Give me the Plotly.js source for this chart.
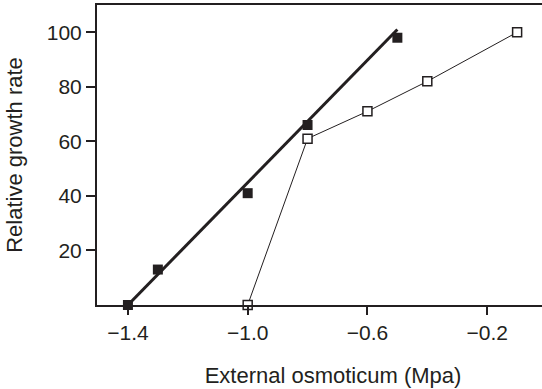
<!DOCTYPE html>
<html>
<head>
<meta charset="utf-8">
<script src="https://cdn.plot.ly/plotly-3.0.1.min.js"></script>
<style>
html,body{margin:0;padding:0;background:#fff;overflow:hidden;width:542px;height:389px;}
#chart{width:569px;height:389px;}
</style>
</head>
<body>
<div id="chart"></div>
<script>
// Filled squares (with fitted straight line)
var filledX = [-1.4, -1.3, -1.0, -0.8, -0.5];
var filledY = [0, 13, 41, 66, 98];
// Fitted line end points
var fitX = [-1.4, -0.5];
var fitY = [0, 101];
// Open squares (joined by thin line)
var openX = [-1.0, -0.8, -0.6, -0.4, -0.1];
var openY = [0, 61, 71, 82, 100];
// Ticks
var xTickVals = [-1.4, -1.0, -0.6, -0.2];
var xTickText = ['\u22121.4', '\u22121.0', '\u22120.6', '\u22120.2'];
var yTickVals = [20, 40, 60, 80, 100];
var yTickText = ['20', '40', '60', '80', '100'];

var ink = '#231f20';
var font = 'Liberation Sans, Arial, sans-serif';

var traces = [
  {x: fitX, y: fitY, mode: 'lines', line: {color: ink, width: 3}, hoverinfo: 'skip', cliponaxis: false},
  {x: openX, y: openY, mode: 'lines+markers', line: {color: ink, width: 1},
   marker: {symbol: 'square', size: 9, color: '#ffffff', line: {color: ink, width: 1.5}}, cliponaxis: false},
  {x: filledX, y: filledY, mode: 'markers',
   marker: {symbol: 'square', size: 10, color: ink, line: {width: 0}}, cliponaxis: false}
];

// The plot frame of the original runs past the right edge of the picture
var layout = {
  width: 569, height: 389,
  margin: {l: 97, r: 0, t: 5, b: 84},
  paper_bgcolor: '#fff', plot_bgcolor: '#fff',
  showlegend: false,
  font: {family: font, color: ink, size: 21},
  xaxis: {
    range: [-1.5033, 0.0733],
    tickvals: xTickVals, ticktext: xTickText,
    ticks: 'outside', ticklen: 8, tickwidth: 2, tickcolor: ink,
    showline: true, linewidth: 2, linecolor: ink, mirror: true,
    showgrid: false, zeroline: false,
    tickfont: {family: font, size: 21, color: ink},
    title: {text: 'External osmoticum (Mpa)', font: {family: font, size: 22, color: ink}, standoff: 24}
  },
  yaxis: {
    range: [0, 110],
    tickvals: yTickVals, ticktext: yTickText,
    ticks: 'outside', ticklen: 9, tickwidth: 2, tickcolor: ink,
    showline: true, linewidth: 2, linecolor: ink, mirror: false,
    showgrid: false, zeroline: false,
    tickfont: {family: font, size: 21, color: ink},
    title: {text: 'Relative growth rate', font: {family: font, size: 22, color: ink}, standoff: 18}
  }
};

Plotly.newPlot('chart', traces, layout, {staticPlot: true, displayModeBar: false});
</script>
</body>
</html>
